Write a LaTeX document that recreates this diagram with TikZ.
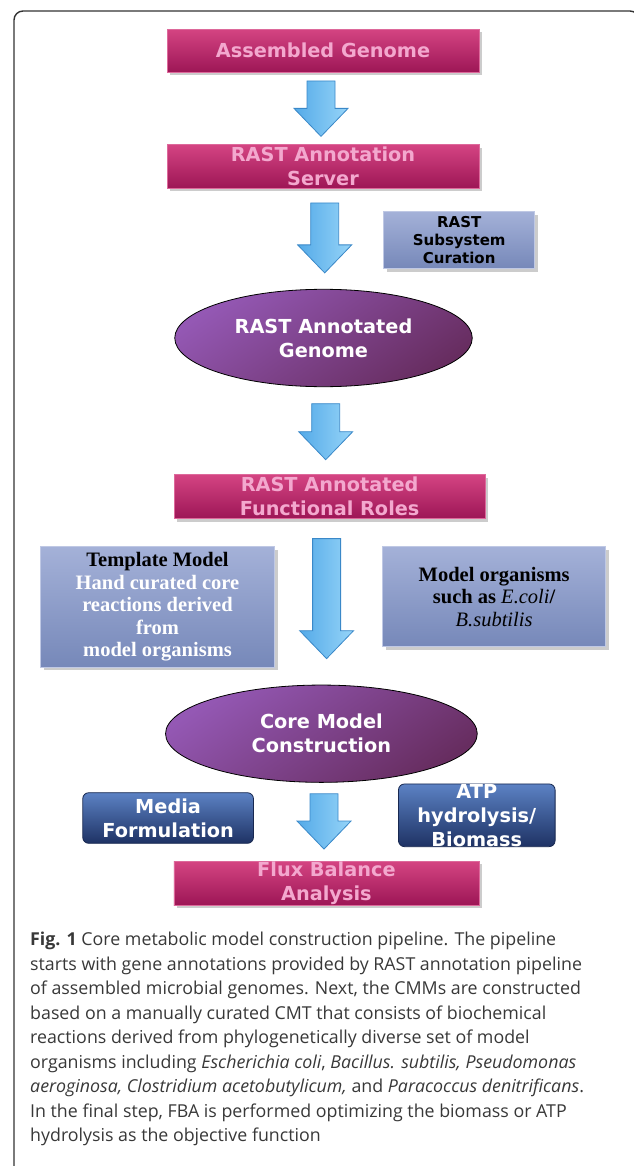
\documentclass[tikz,border=0pt]{standalone}
\usepackage{fontspec}
\setmainfont{Open Sans}
\newfontfamily\verdfont{DejaVu Sans}
\newfontfamily\serfont{Liberation Serif}
\usetikzlibrary{shapes.geometric,shadows,calc}

\definecolor{magtop}{RGB}{212,68,130}
\definecolor{magbot}{RGB}{157,22,86}
\definecolor{magtext}{RGB}{243,168,206}
\definecolor{purtop}{RGB}{148,88,180}
\definecolor{purbot}{RGB}{103,45,96}
\definecolor{lbtop}{RGB}{164,177,216}
\definecolor{lbbot}{RGB}{118,136,185}
\definecolor{dbtop}{RGB}{92,130,196}
\definecolor{dbbot}{RGB}{30,50,100}
\definecolor{arrL}{RGB}{84,170,232}
\definecolor{arrR}{RGB}{150,212,248}
\definecolor{arrE}{RGB}{58,136,200}

% fat down arrow between two nodes: from, to, x shift, top gap, tip gap
\newcommand{\flowarrow}[5]{%
  \draw[flow] let \p1=($(#1.south)+(#3,#4)$), \p2=($(#2.north)+(#3,-#5)$) in
    (\x1-14pt,\y1) -- (\x1+14pt,\y1) -- (\x1+14pt,\y2+28pt) -- (\x1+27pt,\y2+28pt)
    -- (\x1,\y2) -- (\x1-27pt,\y2+28pt) -- (\x1-14pt,\y2+28pt) -- cycle;}

\begin{document}
\begin{tikzpicture}[x=1pt, y=-1pt,
  vbold/.style={font=\verdfont\bfseries\fontsize{19.3}{24}\selectfont},
  stage/.style={vbold, rectangle, inner sep=0pt, align=center, text=magtext,
    top color=magtop, bottom color=magbot, draw=magtop!80!white, line width=0.6pt,
    drop shadow={shadow xshift=3pt, shadow yshift=-3pt, opacity=0.2, fill=black}},
  result/.style={vbold, ellipse, inner sep=0pt, align=center, text=white,
    top color=purtop, bottom color=purbot, shading angle=35, draw=black, line width=0.8pt},
  note/.style={rectangle, inner sep=0pt, align=center,
    top color=lbtop, bottom color=lbbot, draw=lbtop!70!white, line width=0.6pt,
    drop shadow={shadow xshift=3pt, shadow yshift=-3pt, opacity=0.2, fill=black}},
  input/.style={vbold, rectangle, rounded corners=6pt, inner sep=0pt, align=center, text=white,
    top color=dbtop, bottom color=dbbot, draw=dbbot!80!black, line width=0.8pt},
  flow/.style={left color=arrL, right color=arrR, draw=arrE, line width=0.8pt, line join=miter},
  frame/.style={draw=black!80, line width=1.4pt, rounded corners=9pt},
  caption/.style={anchor=north west, inner sep=0pt, align=left, font=\fontsize{17.8}{24.5}\selectfont, text=black!78}
]
\useasboundingbox (0,0) rectangle (633,1166);
\draw[frame] (14,11) rectangle (639,1200);

\node[stage, minimum width=312pt, minimum height=43pt] (asm) at (323,50.8) {Assembled Genome};
\node[stage, minimum width=312pt, minimum height=43.6pt] (srv) at (323,166.5) {RAST Annotation\\Server};
\node[note, minimum width=151pt, minimum height=57pt, font=\verdfont\bfseries\fontsize{15}{18.3}\selectfont]
  (subsys) at (459.2,240.2) {RAST\\Subsystem\\Curation};
\node[result, minimum width=297.5pt, minimum height=97.4pt] (genome) at (323.5,338) {RAST Annotated\\Genome};
\node[stage, minimum width=311pt, minimum height=44pt] (roles) at (329.6,496.7) {RAST Annotated\\Functional Roles};
\node[note, minimum width=234pt, minimum height=120.6pt, text=white, font=\serfont\bfseries\fontsize{20.5}{22.5}\selectfont]
  (tmpl) at (157.5,607) {\textcolor{black}{Template Model}\\Hand curated core\\reactions derived\\from\\model organisms};
\node[note, minimum width=223pt, minimum height=100pt, font=\serfont\bfseries\fontsize{20.5}{22.5}\selectfont]
  (orgs) at (494.1,596.7) {Model organisms\\such as \textmd{\itshape E.coli}/\\\textmd{\itshape B.subtilis}};
\node[result, minimum width=311.7pt, minimum height=97.3pt] (core) at (321.4,733.7) {Core Model\\Construction};
\node[input, minimum width=170.7pt, minimum height=50.6pt] (media) at (168.1,818) {Media\\Formulation};
\node[input, minimum width=156.6pt, minimum height=62.7pt] (atp) at (476.8,815.3) {ATP\\hydrolysis/\\Biomass};
\node[stage, minimum width=305pt, minimum height=43.7pt] (fba) at (326.4,883.2) {Flux Balance\\Analysis};

\flowarrow{asm}{srv}{-2}{8.4}{8}
\flowarrow{srv}{genome}{1.7}{14.4}{16}
\flowarrow{genome}{roles}{2.2}{16.6}{14.7}
\flowarrow{roles}{core}{-3}{19.6}{26}
\flowarrow{core}{fba}{2.6}{11}{12}

\node[caption] (cap) at (30,932) {\textbf{Fig. 1} Core metabolic model construction pipeline. The pipeline\\
starts with gene annotations provided by RAST annotation pipeline\\
of assembled microbial genomes. Next, the CMMs are constructed\\
based on a manually curated CMT that consists of biochemical\\
reactions derived from phylogenetically diverse set of model\\
organisms including \textit{Escherichia coli}, \textit{Bacillus. subtilis, Pseudomonas}\\
\textit{aeroginosa, Clostridium acetobutylicum,} and \textit{Paracoccus denitrificans}.\\
In the final step, FBA is performed optimizing the biomass or ATP\\
hydrolysis as the objective function};
\end{tikzpicture}
\end{document}
